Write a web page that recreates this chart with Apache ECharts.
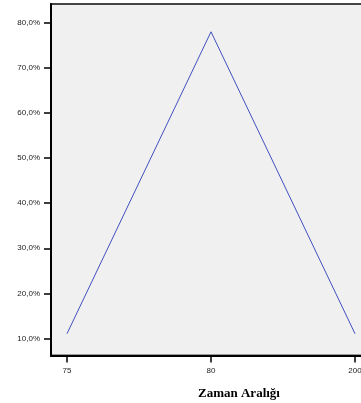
<!DOCTYPE html>
<html>
<head>
<meta charset="utf-8">
<script src="https://cdn.jsdelivr.net/npm/echarts@6/dist/echarts.min.js"></script>
<style>
html,body{margin:0;padding:0;background:#fff;}
#c{width:361px;height:403px;}
</style>
</head>
<body>
<div id="c"></div>
<script>
const categories = ['75', '80', '200'];
const percentValues = [11.1, 77.9, 11.1];
const yTickValues = [10, 20, 30, 40, 50, 60, 70, 80];
const xTitle = 'Zaman Aralığı';

const chart = echarts.init(document.getElementById('c'), null, {renderer: 'canvas'});
const seriesData = percentValues.map((v, i) => [i, v]);

chart.setOption({
  animation: false,
  backgroundColor: '#ffffff',
  title: {
    text: xTitle,
    left: 193,
    top: 382,
    textStyle: {fontFamily: 'Liberation Serif', fontWeight: 'bold', fontSize: 13, color: '#000'}
  },
  grid: {
    left: 51, right: -10, top: 4, bottom: 47.5,
    outerBoundsMode: 'none', containLabel: false,
    show: true, backgroundColor: '#f0f0f0', borderColor: '#444', borderWidth: 2
  },
  xAxis: {
    type: 'value',
    min: -0.111, max: 2.111,
    axisLine: {show: true, onZero: false, lineStyle: {color: '#000', width: 2}},
    axisTick: {show: true, customValues: [0, 1, 2], length: 7, lineStyle: {color: '#000', width: 1.5}},
    axisLabel: {
      customValues: [0, 1, 2], margin: 11, hideOverlap: false,
      formatter: v => categories[Math.round(v)],
      fontFamily: 'Liberation Sans', fontSize: 8, color: '#222'
    },
    splitLine: {show: false}
  },
  yAxis: {
    type: 'value',
    min: 6.28, max: 84.05,
    axisLine: {show: true, onZero: false, lineStyle: {color: '#000', width: 2}},
    axisTick: {show: true, customValues: yTickValues, length: 7, lineStyle: {color: '#000', width: 1.5}},
    axisLabel: {
      customValues: yTickValues, margin: 11,
      formatter: v => v.toFixed(1).replace('.', ',') + '%',
      fontFamily: 'Liberation Sans', fontSize: 8, color: '#222'
    },
    splitLine: {show: false}
  },
  series: [{
    type: 'line',
    data: seriesData,
    symbol: 'none',
    lineStyle: {color: '#4050c0', width: 1}
  }]
});
</script>
</body>
</html>
